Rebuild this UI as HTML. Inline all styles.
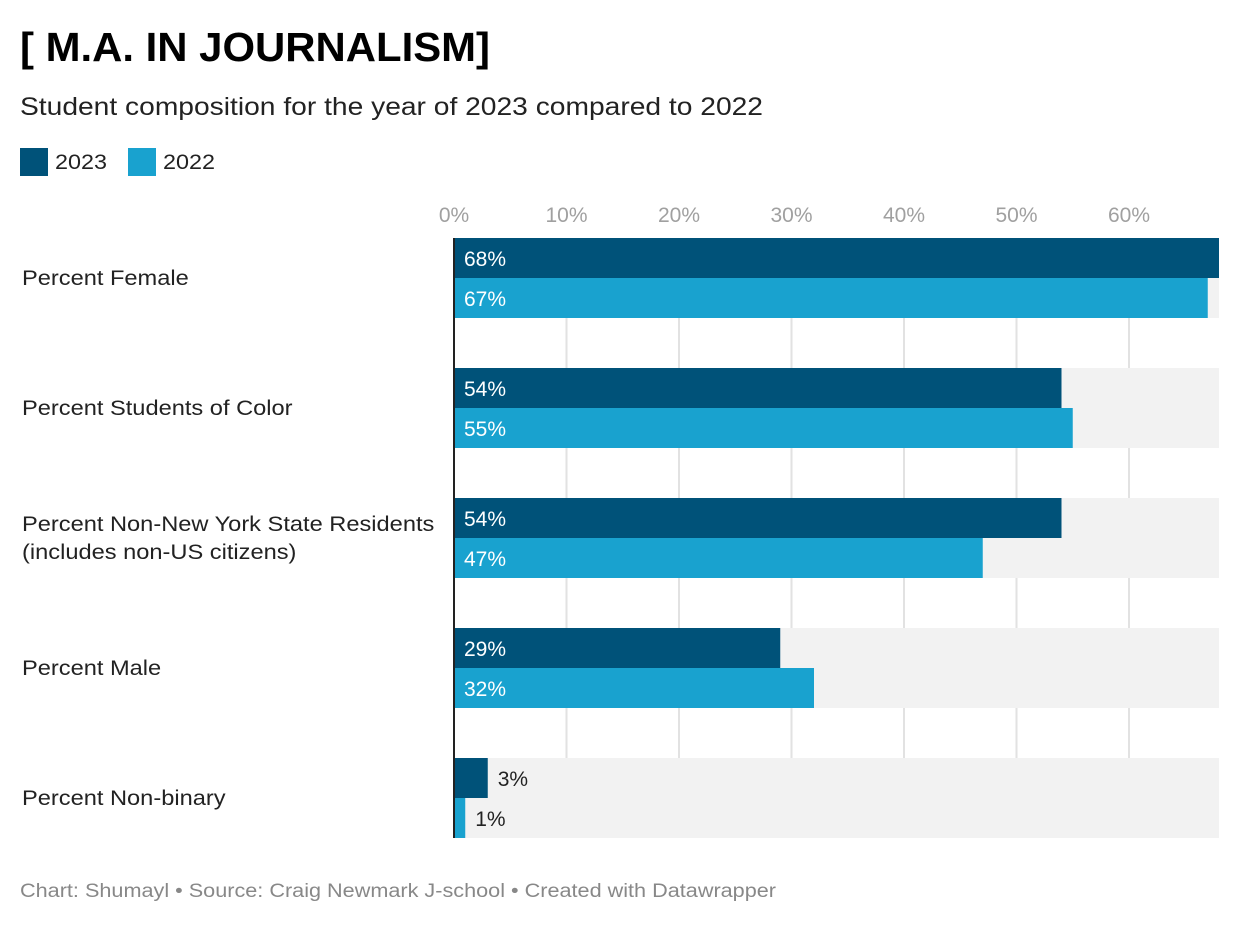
<!DOCTYPE html>
<html><head><meta charset="utf-8"><style>
body{margin:0;background:#fff;width:1240px;height:926px;overflow:hidden;font-family:"Liberation Sans",sans-serif}
</style></head><body>
<svg id="c" width="1240" height="926" xmlns="http://www.w3.org/2000/svg" font-family="Liberation Sans, sans-serif">
<text x="20" y="61" font-size="41" font-weight="bold" fill="#000" textLength="470" lengthAdjust="spacingAndGlyphs">[ M.A. IN JOURNALISM]</text>
<text x="20" y="115" font-size="25" fill="#222" textLength="743" lengthAdjust="spacingAndGlyphs">Student composition for the year of 2023 compared to 2022</text>
<g>
<rect x="20" y="148" width="28" height="28" fill="#005279"/>
<text x="55" y="169" font-size="21" fill="#222" textLength="52" lengthAdjust="spacingAndGlyphs">2023</text>
<rect x="128" y="148" width="28" height="28" fill="#19a2cf"/>
<text x="163" y="169" font-size="21" fill="#222" textLength="52" lengthAdjust="spacingAndGlyphs">2022</text>
</g>
<g id="plot"></g>
<text x="20" y="897" font-size="19" fill="#888" textLength="756" lengthAdjust="spacingAndGlyphs">Chart: Shumayl • Source: Craig Newmark J-school • Created with Datawrapper</text>
</svg>
<script>
const categories=["Percent Female","Percent Students of Color","Percent Non-New York State Residents|(includes non-US citizens)","Percent Male","Percent Non-binary"];
const values2023=[68,54,54,29,3];
const values2022=[67,55,47,32,1];
const ticks=[0,10,20,30,40,50,60];
const maxV=68;
const NS="http://www.w3.org/2000/svg";
const g=document.getElementById('plot');
const x0=454,pxPer=11.25;
const xs=v=>x0+v*pxPer;
const groupY=i=>238+i*130;
function el(t,a){const e=document.createElementNS(NS,t);for(const k in a)e.setAttribute(k,a[k]);g.appendChild(e);return e;}
function widen(t,f){const w=t.getComputedTextLength();t.setAttribute('textLength',w*f);t.setAttribute('lengthAdjust','spacingAndGlyphs');}
ticks.forEach(t=>{
 const l=el('line',{x1:xs(t),x2:xs(t),y1:238,y2:838,stroke:'#e2e2e2','stroke-width':2});
 
 
 const tx=el('text',{x:xs(t),y:222,'font-size':21,fill:'#a0a0a0','text-anchor':'middle'});
 tx.textContent=t+'%';
 
 
});
categories.forEach((c,i)=>{
 const y=groupY(i);
 const bg=el('rect',{x:x0,y:y,width:xs(maxV)-x0,height:80,fill:'#f2f2f2'});
 
 
 const lines=c.split('|');
 lines.forEach((ln,j)=>{
  const t=el('text',{x:22,y:y+47-(lines.length-1)*14+j*28,'font-size':21,fill:'#222'});
  t.textContent=ln;
  
  
  widen(t,1.125);
 });
 [[values2023[i],'#005279','bar-2023'],[values2022[i],'#19a2cf','bar-2022']].forEach(([v,col,nm],k)=>{
  const by=y+k*40;
  const r=el('rect',{x:x0,y:by,width:xs(v)-x0,height:40,fill:col});
  
  
  const inside=v>=10;
  const t=el('text',{x:inside?x0+10:xs(v)+10,y:by+28,'font-size':21,fill:inside?'#fff':'#222'});
  t.textContent=v+'%';
  
  
 });
});
const ax=el('line',{x1:x0,x2:x0,y1:238,y2:838,stroke:'#222','stroke-width':2});


</script>
</body></html>
